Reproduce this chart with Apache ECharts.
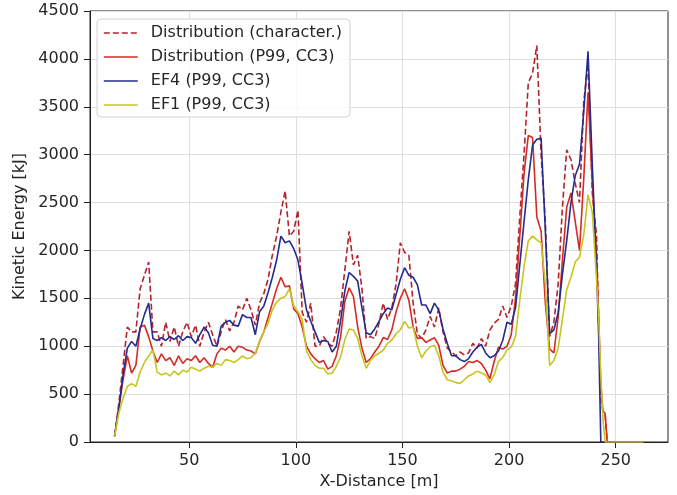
<!DOCTYPE html>
<html>
<head>
<meta charset="utf-8">
<script src="https://cdn.jsdelivr.net/npm/echarts@6/dist/echarts.min.js"></script>
<style>
  html, body { margin: 0; padding: 0; background: #fff; }
  #chart { width: 677px; height: 495px; }
</style>
</head>
<body>
<div id="chart"></div>
<script>
// Horizontal distance along the profile [m]
const xDist = [
  15, 17, 19, 21, 23, 25, 27, 29, 31, 33,
  35, 37, 39, 41, 43, 45, 47, 49, 51, 53,
  55, 57, 59, 61, 63, 65, 67, 69, 71, 73,
  75, 77, 79, 81, 83, 85, 87, 89, 91, 93,
  95, 97, 99, 101, 103, 105, 107, 109, 111, 113,
  115, 117, 119, 121, 123, 125, 127, 129, 131, 133,
  135, 137, 139, 141, 143, 145, 147, 149, 151, 153,
  155, 157, 159, 161, 163, 165, 167, 169, 171, 173,
  175, 177, 179, 181, 183, 185, 187, 189, 191, 193,
  195, 197, 199, 201, 203, 205, 207, 209, 211, 213,
  215, 217, 219, 221, 223, 225, 227, 229, 231, 233,
  235, 237, 239, 241, 242, 243, 244, 245, 246, 247,
  249, 251, 253, 255, 257, 259, 261, 263
];

// Kinetic energy [kJ] per scenario
const distCharacter = [
  60, 400, 800, 1200, 1150, 1150, 1600, 1740, 1880, 1150,
  1150, 1000, 1250, 1050, 1200, 1000, 1150, 1250, 1100, 1220,
  1000, 1150, 1250, 1120, 1000, 1150, 1280, 1160, 1250, 1420,
  1380, 1500, 1380, 1220, 1450, 1550, 1700, 1950, 2150, 2400,
  2620, 2150, 2200, 2420, 1350, 1250, 1450, 1000, 1000, 1100,
  1030, 1000, 1150, 1400, 1800, 2200, 1850, 1950, 1600, 1080,
  1100, 1080, 1240, 1450, 1280, 1400, 1650, 2080, 1980, 1950,
  1450, 1130, 1080, 1170, 1310, 1200, 1400, 1150, 980, 940,
  900, 940, 910, 930, 1030, 980, 1080, 1000, 1170, 1240,
  1280, 1420, 1300, 1420, 1650, 2350, 3000, 3750, 3850, 4140,
  3000, 2300, 1100, 1250, 1650, 2450, 3050, 2950, 2700, 2500,
  3550, 3950, 2600, 2150, 1250, 450, 320, 300, 0, 0,
  0, 0, 0, 0, 0, 0, 0, 0
];

const distP99 = [
  60, 350, 650, 900, 720, 800, 1200, 1220, 1100, 950,
  830, 920, 850, 880, 800, 900, 820, 870, 850, 900,
  830, 880, 820, 780, 920, 980, 960, 1000, 940, 1000,
  990, 960, 950, 920, 1050, 1150, 1300, 1450, 1600, 1720,
  1620, 1630, 1390, 1340, 1200, 1000, 920, 870, 830, 850,
  760, 790, 900, 1100, 1470, 1610, 1520, 1200, 980, 830,
  870, 940, 1000, 1090, 1070, 1170, 1360, 1500, 1600, 1480,
  1200, 1080, 1090, 1040, 1065, 1090, 1010, 800, 720, 740,
  740, 760, 790, 840, 830, 850, 820, 750, 660, 840,
  990, 970, 1000, 1120, 1500, 2150, 2800, 3200, 3180, 2350,
  2200, 1450, 970, 930, 1300, 1900, 2450, 2600, 2300, 2000,
  2750, 3650, 2700, 1950, 1300, 600, 320, 300, 0, 0,
  0, 0, 0, 0, 0, 0, 0, 0
];

const ef4P99 = [
  60, 350, 700, 980, 1050, 1000, 1180, 1330, 1450, 1080,
  1060, 1090, 1060, 1100, 1070, 1110, 1060, 1100, 1090, 1030,
  1120, 1200, 1140, 1010, 1000, 1210, 1250, 1270, 1220, 1210,
  1330, 1300, 1300, 1120, 1360, 1420, 1560, 1720, 1900, 2150,
  2080, 2100, 2020, 1900, 1650, 1380, 1260, 1150, 1040, 1060,
  1050, 940, 1000, 1270, 1580, 1770, 1730, 1680, 1400, 1140,
  1120, 1180, 1260, 1340, 1400, 1380, 1540, 1700, 1820, 1740,
  1720, 1640, 1430, 1430, 1340, 1450, 1380, 1180, 1030, 900,
  900, 860, 840, 870, 940, 990, 1020, 930, 880, 900,
  950, 1060, 1250, 1230, 1400, 1850, 2300, 2740, 3100, 3160,
  3170, 2200, 1130, 1170, 1350, 1750, 2100, 2500, 2780, 2900,
  3450, 4080, 2900, 1800, 1100, 0, 0, 0, 0, 0,
  0, 0, 0, 0, 0, 0, 0, 0
];

const ef1P99 = [
  60, 300, 460, 580, 610, 580, 730, 830, 900, 960,
  730, 700, 720, 690, 740, 700, 750, 730, 780, 760,
  740, 770, 790, 780, 820, 800, 860, 850, 830, 860,
  900, 870, 880, 930, 1050, 1150, 1240, 1380, 1460, 1500,
  1520, 1600, 1420, 1360, 1280, 950, 860, 800, 770, 770,
  710, 720, 790, 890, 1070, 1180, 1170, 1080, 900, 770,
  850, 900, 926, 960, 1030, 1065, 1130, 1170, 1260, 1190,
  1200, 1000, 880, 950, 995, 1010, 900, 730, 650, 640,
  620, 612, 650, 690, 710, 740, 720, 700, 620, 700,
  840, 880, 960, 990, 1100, 1480, 1830, 2100, 2150, 2110,
  2080, 1650, 800, 850, 980, 1280, 1590, 1720, 1880, 1930,
  2160, 2580, 2400, 1700, 1300, 700, 250, 0, 0, 0,
  0, 0, 0, 0, 0, 0, 0, 0
];

const xTicks = [50, 100, 150, 200, 250];

const seriesNames = [
  'Distribution (character.)',
  'Distribution (P99, CC3)',
  'EF4 (P99, CC3)',
  'EF1 (P99, CC3)'
];
const seriesValues = [distCharacter, distP99, ef4P99, ef1P99];
const seriesColors = ['#b3232d', '#d42b23', '#242b8d', '#c8c51f'];

const FONT = 'DejaVu Sans';
const TEXT = '#262626';

function toPairs(values) {
  return xDist.map((x, i) => [x, values[i]]);
}

const chart = echarts.init(document.getElementById('chart'), null, { renderer: 'canvas' });

chart.setOption({
  animation: false,
  grid: {
    left: 90, right: 9, top: 11, bottom: 53,
    show: true, borderColor: '#222', borderWidth: 1, backgroundColor: 'transparent'
  },
  legend: {
    orient: 'vertical',
    left: 97, top: 19,
    padding: [6, 8, 4, 6],
    itemWidth: 34, itemHeight: 14, itemGap: 8,
    backgroundColor: 'rgba(255,255,255,0.85)',
    borderColor: '#d4d4d4', borderWidth: 1, borderRadius: 4,
    // line-only legend keys: hide the marker drawn in the middle of the key
    itemStyle: { color: 'rgba(0,0,0,0)', borderWidth: 0, opacity: 0 },
    lineStyle: { width: 1.6 },
    textStyle: { fontFamily: FONT, fontSize: 16, color: TEXT, lineHeight: 16, padding: [0, 0, 0, 8] },
    data: seriesNames
  },
  xAxis: {
    type: 'value',
    min: 3.5, max: 274.5,
    name: 'X-Distance [m]',
    nameLocation: 'middle', nameGap: 31,
    nameTextStyle: { fontFamily: FONT, fontSize: 16, color: TEXT },
    axisLine: { show: true, onZero: false, lineStyle: { color: '#222', width: 1 } },
    axisTick: { show: true, length: 6, customValues: xTicks, lineStyle: { color: '#222' } },
    axisLabel: { customValues: xTicks, margin: 11, fontFamily: FONT, fontSize: 16, color: TEXT },
    splitLine: { show: true, customValues: xTicks, lineStyle: { color: '#dedede', width: 1 } }
  },
  yAxis: {
    type: 'value',
    min: 0, max: 4500, interval: 500,
    name: 'Kinetic Energy [kJ]',
    nameLocation: 'middle', nameGap: 51, nameRotate: 90,
    nameTextStyle: { fontFamily: FONT, fontSize: 16, color: TEXT },
    axisLine: { show: true, lineStyle: { color: '#222', width: 1 } },
    axisTick: { show: true, length: 6, lineStyle: { color: '#222' } },
    axisLabel: {
      margin: 11, fontFamily: FONT, fontSize: 16, color: TEXT,
      formatter: v => String(v)
    },
    splitLine: { show: true, lineStyle: { color: '#dedede', width: 1 } }
  },
  series: seriesNames.map((name, i) => ({
    name: name,
    type: 'line',
    data: toPairs(seriesValues[i]),
    symbol: 'none',
    showSymbol: false,
    z: 2 + i,
    color: seriesColors[i],
    lineStyle: {
      color: seriesColors[i],
      width: 1.6,
      type: i === 0 ? [6, 3] : 'solid'
    }
  }))
});
</script>
</body>
</html>
